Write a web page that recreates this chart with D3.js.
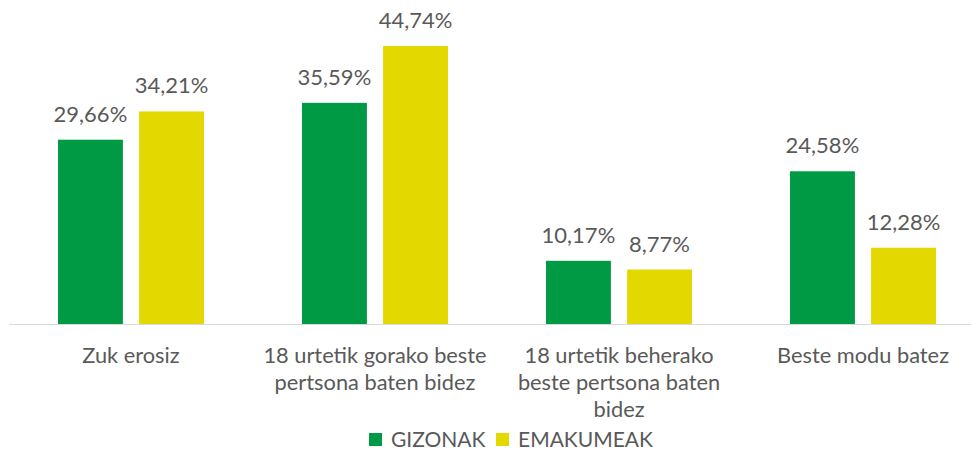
<!DOCTYPE html>
<html>
<head>
<meta charset="utf-8">
<script src="https://cdn.jsdelivr.net/npm/d3@7"></script>
<style>
  body { margin: 0; background: #fff; }
  text { font-family: Lato, "Open Sans", sans-serif; fill: #595959; }
</style>
</head>
<body>
<svg id="chart" width="971" height="450"></svg>
<script>
// categories and series
var categories = ['Zuk erosiz', '18 urtetik gorako beste pertsona baten bidez', '18 urtetik beherako beste pertsona baten bidez', 'Beste modu batez'];
var categoryLines = [
    ['Zuk erosiz'],
    ['18 urtetik gorako beste', 'pertsona baten bidez'],
    ['18 urtetik beherako', 'beste pertsona baten', 'bidez'],
    ['Beste modu batez']
];
var seriesNames = ['GIZONAK', 'EMAKUMEAK'];
var gizonak = [29.66, 35.59, 10.17, 24.58];
var emakumeak = [34.21, 44.74, 8.77, 12.28];
var colors = ['#009a44', '#e3d800'];

var svg = d3.select('#chart');
var width = 971;
var baseline = 324;

var data = categories.map((c, i) => {
    return { cat: c, values: [gizonak[i], emakumeak[i]] };
});

var xScale = d3.scaleBand()
    .domain(categories)
    .range([9, 985]);

var inner = d3.scaleBand()
    .domain(seriesNames)
    .range([49, 195])
    .paddingInner(0.2);

var yScale = d3.scaleLinear()
    .domain([0, 44.74])
    .range([baseline, 46]);

var fmt = v => v.toFixed(2).replace('.', ',') + '%';

// axis line
svg.append('line')
    .attr('x1', 9).attr('x2', width)
    .attr('y1', baseline + 0.5).attr('y2', baseline + 0.5)
    .attr('stroke', '#d9d9d9')
    .attr('stroke-width', 1);

var groups = svg.selectAll('.cat')
    .data(data)
    .enter()
    .append('g')
    .attr('class', 'cat')
    .attr('transform', d => 'translate(' + xScale(d.cat) + ',0)');

groups.selectAll('rect')
    .data(d => d.values.map((v, j) => ({ name: seriesNames[j], v: v, j: j })))
    .enter()
    .append('rect')
    .attr('x', d => inner(d.name))
    .attr('width', inner.bandwidth())
    .attr('y', d => yScale(d.v))
    .attr('height', d => baseline - yScale(d.v))
    .attr('fill', d => colors[d.j]);

groups.selectAll('.val')
    .data(d => d.values.map((v, j) => ({ name: seriesNames[j], v: v })))
    .enter()
    .append('text')
    .attr('class', 'val')
    .attr('x', d => inner(d.name) + inner.bandwidth() / 2)
    .attr('y', d => yScale(d.v) - 18)
    .attr('text-anchor', 'middle')
    .style('font-size', '22px')
    .text(d => fmt(d.v));

// category labels
var labels = svg.selectAll('.catLabel')
    .data(categories)
    .enter()
    .append('text')
    .attr('class', 'catLabel')
    .attr('text-anchor', 'middle')
    .attr('x', d => xScale(d) + xScale.bandwidth() / 2)
    .attr('y', 363)
    .style('font-size', '21.8px');

labels.selectAll('tspan')
    .data((d, i) => categoryLines[i])
    .enter()
    .append('tspan')
    .attr('x', function () { return this.parentNode.getAttribute('x'); })
    .attr('dy', (d, i) => i == 0 ? 0 : 27)
    .text(d => d);

// legend
var legendX = [369, 496];
var legend = svg.selectAll('.legend')
    .data(seriesNames)
    .enter()
    .append('g')
    .attr('class', 'legend')
    .attr('transform', (d, i) => 'translate(' + legendX[i] + ',433)');

legend.append('rect')
    .attr('width', 13).attr('height', 13)
    .attr('fill', (d, i) => colors[i]);

legend.append('text')
    .attr('x', 22)
    .attr('y', 13.5)
    .style('font-size', '21px')
    .text(d => d);
</script>
</body>
</html>
